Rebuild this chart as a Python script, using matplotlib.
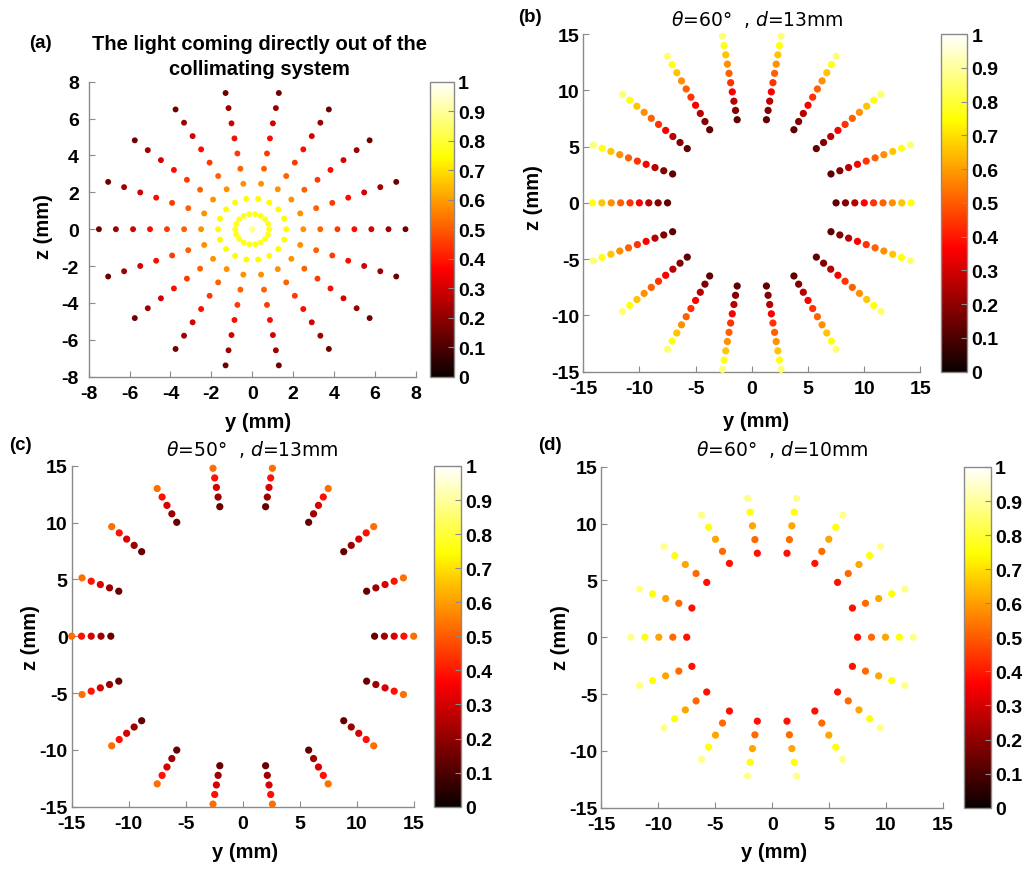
import numpy as np
import matplotlib
matplotlib.use("Agg")
import matplotlib.pyplot as plt
from matplotlib.cm import ScalarMappable
from matplotlib.colors import Normalize

# ---------------- data ----------------
ray_angles_deg = [0, 20, 40, 60, 80, 100, 120, 140, 160,
                  180, 200, 220, 240, 260, 280, 300, 320, 340]

# (a) light directly out of the collimating system
radii_a = [0.0, 0.83, 1.67, 2.50, 3.33, 4.17, 5.00, 5.83, 6.67, 7.50]
intensity_a = [0.90, 0.77, 0.74, 0.58, 0.51, 0.45, 0.38, 0.30, 0.22, 0.15]

# (b) theta=60, d=13mm
radii_b = [7.50, 8.34, 9.17, 10.01, 10.84, 11.68, 12.51, 13.35, 14.18, 15.02]
intensity_b = [0.13, 0.18, 0.26, 0.36, 0.44, 0.51, 0.58, 0.66, 0.76, 0.86]

# (c) theta=50, d=13mm
radii_c = [11.57, 12.43, 13.29, 14.14, 15.00]
intensity_c = [0.14, 0.22, 0.31, 0.39, 0.53]

# (d) theta=60, d=10mm
radii_d = [7.50, 8.72, 9.95, 11.17, 12.40]
intensity_d = [0.39, 0.52, 0.61, 0.75, 0.88]

ticks_a = [-8, -6, -4, -2, 0, 2, 4, 6, 8]
ticks_bcd = [-15, -10, -5, 0, 5, 10, 15]
cbar_ticks = [0, 0.1, 0.2, 0.3, 0.4, 0.5, 0.6, 0.7, 0.8, 0.9, 1]
cbar_labels = ["0", "0.1", "0.2", "0.3", "0.4", "0.5", "0.6", "0.7", "0.8", "0.9", "1"]

title_a = "The light coming directly out of the\ncollimating system"
title_b = r"$\theta$=60°  , $d$=13mm"
title_c = r"$\theta$=50°  , $d$=13mm"
title_d = r"$\theta$=60°  , $d$=10mm"

# ---------------- style ----------------
BOLD_FONT = ['Liberation Sans', 'DejaVu Sans']
plt.rcParams['font.family'] = BOLD_FONT
plt.rcParams['mathtext.fontset'] = 'dejavusans'
GRAY = '#8a8a8a'
W, H = 1028, 870
fig = plt.figure(figsize=(W / 100, H / 100), dpi=100)


def fr(left, top, right, bottom):
    return [left / W, 1 - bottom / H, (right - left) / W, (bottom - top) / H]


def panel(rect, crect, radii, inten, lim, ticks, msize, ytickpad, xlab, ylab):
    ax = fig.add_axes(fr(*rect))
    ang = np.deg2rad(np.array(ray_angles_deg, dtype=float))
    r = np.array(radii, dtype=float)
    v = np.array(inten, dtype=float)
    A, R = np.meshgrid(ang, r)
    V = np.broadcast_to(v[:, None], R.shape)
    y = (R * np.cos(A)).ravel()
    z = (R * np.sin(A)).ravel()
    c = V.ravel()
    keep = (np.abs(y) <= lim + 0.005) & (np.abs(z) <= lim + 0.005)
    ax.scatter(y[keep], z[keep], c=c[keep], cmap='hot', vmin=0, vmax=1,
               s=msize, linewidths=0, clip_on=False, zorder=3)
    ax.set_xlim(-lim, lim)
    ax.set_ylim(-lim, lim)
    ax.set_xticks(ticks)
    ax.set_yticks(ticks)
    for s in ['top', 'right']:
        ax.spines[s].set_visible(False)
    for s in ['left', 'bottom']:
        ax.spines[s].set_color(GRAY)
        ax.spines[s].set_linewidth(1.0)
    ax.tick_params(direction='in', length=4, width=0.8, color=GRAY)
    ax.tick_params(axis='x', pad=6)
    ax.tick_params(axis='y', pad=ytickpad)
    ax.set_xticklabels([str(t) for t in ticks], fontweight='bold', fontsize=14)
    ax.set_yticklabels([str(t) for t in ticks], fontweight='bold', fontsize=14)
    ax.set_xlabel("y (mm)", fontsize=14.5, fontweight='bold', va='top')
    ax.set_ylabel("z (mm)", fontsize=14.5, fontweight='bold')
    ax.xaxis.set_label_coords(xlab[0], xlab[1])
    ax.yaxis.set_label_coords(ylab[0], ylab[1])

    cax = fig.add_axes(fr(*crect))
    sm = ScalarMappable(norm=Normalize(0, 1), cmap='hot')
    cb = fig.colorbar(sm, cax=cax)
    cb.outline.set_edgecolor(GRAY)
    cb.outline.set_linewidth(1.0)
    cb.set_ticks(cbar_ticks)
    cb.set_ticklabels(cbar_labels, fontweight='bold', fontsize=14)
    cax.tick_params(direction='in', length=4, width=0.8, color=GRAY, pad=3)
    return ax


panel((88.7, 82.7, 415.7, 377.7), (430.3, 82.7, 454.0, 377.7),
      radii_a, intensity_a, 8, ticks_a, 18, 7,
      (0.517, -0.12), (-0.109, 0.511))
panel((583.3, 35.0, 920.3, 372.7), (941.0, 35.0, 967.3, 372.7),
      radii_b, intensity_b, 15, ticks_bcd, 27, 3,
      (0.512, -0.116), (-0.12, 0.52))
panel((71.7, 466.7, 413.7, 807.7), (434.3, 467.0, 461.3, 807.7),
      radii_c, intensity_c, 15, ticks_bcd, 27, 3,
      (0.507, -0.1035), (-0.093, 0.50))
panel((601.3, 467.7, 943.0, 808.7), (964.0, 468.0, 990.7, 808.7),
      radii_d, intensity_d, 15, ticks_bcd, 27, 3,
      (0.505, -0.10), (-0.092, 0.503))

# titles
fig.text(259 / W, 1 - 57 / H, title_a, ha='center', va='center',
         fontsize=14.5, fontweight='bold', linespacing=1.4)
for x, yc, t in [(757, 20, title_b), (252, 450, title_c), (782, 450, title_d)]:
    fig.text(x / W, 1 - yc / H, t, ha='center', va='center', fontsize=13.5,
             family=['DejaVu Sans'], fontweight='normal')

# panel labels
for x, yc, t in [(40, 44, "(a)"), (530, 17, "(b)"), (20, 446, "(c)"), (550, 446, "(d)")]:
    fig.text(x / W, 1 - yc / H, t, ha='center', va='center', fontsize=13.5,
             fontweight='bold')

fig.savefig("out.png", dpi=100, facecolor='white')
